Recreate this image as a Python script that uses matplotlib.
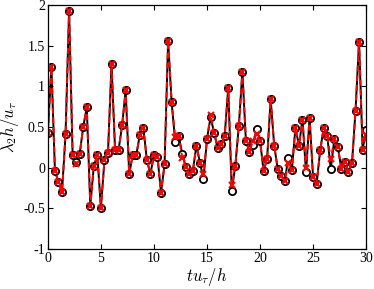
import numpy as np
import matplotlib
matplotlib.use("Agg")
import matplotlib.pyplot as plt

plt.rcParams['font.family'] = ['Liberation Serif', 'DejaVu Serif']
plt.rcParams['mathtext.fontset'] = 'cm'

# time axis, t u_tau / h
t = np.arange(91) / 3.0

# lambda_2 h / u_tau, black (circles)
lam_black = [0.43, 1.24, -0.04, -0.18, -0.30, 0.41, 1.93, 0.155, 0.065,
             0.17, 0.50, 0.74, -0.47, 0.02, 0.15, -0.50, 0.09, 0.18,
             1.27, 0.22, 0.22, 0.52, 0.95, -0.08, 0.155, 0.155, 0.40,
             0.49, 0.09, -0.08, 0.155, 0.13, -0.31, 0.04, 1.56, 0.80,
             0.32, 0.39, 0.17, 0.01, -0.08, -0.04, 0.27, 0.06, -0.14,
             0.35, 0.62, 0.43, 0.24, 0.29, 0.39, 0.98, -0.29, 0.02,
             0.51, 1.18, 0.33, 0.19, 0.28, 0.47, 0.33, -0.04, 0.11,
             0.84, 0.27, -0.02, -0.10, -0.16, 0.12, -0.03, 0.49, 0.27,
             0.59, -0.06, 0.61, -0.12, -0.20, 0.21, 0.49, 0.39, -0.02,
             0.35, 0.25, -0.02, 0.07, -0.05, 0.05, 0.70, 1.55, 0.22, 0.46]

# lambda_2 h / u_tau, red (crosses)
lam_red = list(lam_black)
lam_red[8] = 0.04
lam_red[36] = 0.37
lam_red[38] = 0.12
lam_red[44] = -0.08
lam_red[46] = 0.65
lam_red[52] = -0.22
lam_red[58] = 0.33
lam_red[59] = 0.41
lam_red[68] = 0.06
lam_red[73] = 0.0
lam_red[80] = 0.10
lam_red[90] = 0.40

fig = plt.figure(figsize=(3.74, 2.89), dpi=100)
ax = fig.add_axes([0.128, 0.139, 0.851, 0.844])

ax.plot(t, lam_black, '-o', color='k', lw=1.4, ms=5.2, mew=1.3,
        mfc='white', mec='k')
ax.plot(t, lam_red, '--x', color='r', lw=1.4, ms=4.5, mew=1.5,
        dashes=(3, 2))

ax.set_xlim(0, 30)
ax.set_ylim(-1, 2)
ax.set_xticks([0, 5, 10, 15, 20, 25, 30])
ax.set_yticks([-1, -0.5, 0, 0.5, 1, 1.5, 2])
ax.set_yticklabels(['-1', '-0.5', '0', '0.5', '1', '1.5', '2'])
ax.tick_params(direction='in', top=True, right=True, length=3.5,
               width=0.8, labelsize=10, pad=2)
for s in ax.spines.values():
    s.set_linewidth(0.9)

ax.set_xlabel(r'$tu_\tau/h$', fontsize=12, labelpad=1)
ax.set_ylabel(r'$\lambda_2 h/u_\tau$', fontsize=12, labelpad=2)

fig.savefig('out.png', dpi=100)
